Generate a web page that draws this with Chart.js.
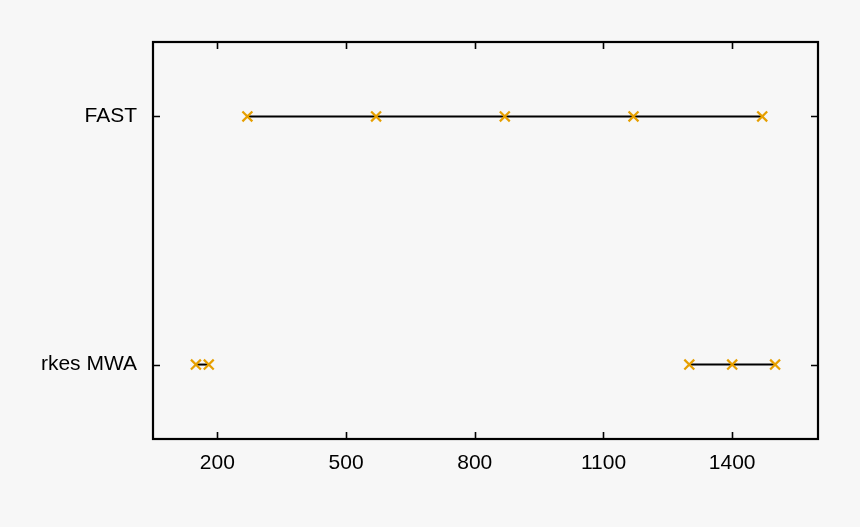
<!DOCTYPE html>
<html>
<head>
<meta charset="utf-8">
<script src="https://cdn.jsdelivr.net/npm/chart.js@4.4.1/dist/chart.umd.min.js"></script>
<title>Frequency coverage</title>
<style>
  html, body { margin: 0; padding: 0; background: #f7f7f7; }
  #wrap { width: 860px; height: 527px; position: relative; }
</style>
</head>
<body>
<div id="wrap"><canvas id="myChart"></canvas></div>
<script>
// telescope rows (y value -> label)
const rowLabels = { 1: 'rkes MWA', 2: 'FAST' };
const xTicks = [200, 500, 800, 1100, 1400];

// frequencies in MHz
const fastFreqs = [270, 570, 870, 1170, 1470];
const mwaFreqs = [150, 180];
const parkesFreqs = [1300, 1400, 1500];

const toPoints = (freqs, row) => freqs.map(f => ({ x: f, y: row }));

const lineColor = '#000000';
const markColor = '#e69f00';
const tickFont = { family: 'Liberation Sans', size: 21 };

function series(freqs, row) {
  return {
    data: toPoints(freqs, row),
    showLine: true,
    borderColor: lineColor,
    borderWidth: 2,
    pointStyle: 'crossRot',
    pointRadius: 7,
    pointBorderWidth: 2.2,
    pointBorderColor: markColor,
    pointBackgroundColor: markColor
  };
}

// gnuplot style frame with inward ticks on all four sides
const frame = {
  id: 'frame',
  afterDatasetsDraw(chart) {
    const { ctx, chartArea: a, scales } = chart;
    const len = 7;
    ctx.save();
    ctx.strokeStyle = '#000';
    ctx.lineWidth = 1.6;
    ctx.beginPath();
    xTicks.forEach(v => {
      const px = Math.round(scales.x.getPixelForValue(v)) + 0.5;
      ctx.moveTo(px, a.bottom); ctx.lineTo(px, a.bottom - len);
      ctx.moveTo(px, a.top); ctx.lineTo(px, a.top + len);
    });
    Object.keys(rowLabels).forEach(v => {
      const py = Math.round(scales.y.getPixelForValue(+v)) + 0.5;
      ctx.moveTo(a.left, py); ctx.lineTo(a.left + len, py);
      ctx.moveTo(a.right, py); ctx.lineTo(a.right - len, py);
    });
    ctx.stroke();
    ctx.lineWidth = 2.2;
    ctx.strokeRect(a.left, a.top, a.right - a.left, a.bottom - a.top);
    ctx.restore();
  }
};

new Chart(document.getElementById('myChart'), {
  type: 'scatter',
  data: {
    datasets: [
      series(fastFreqs, 2),
      series(mwaFreqs, 1),
      series(parkesFreqs, 1)
    ]
  },
  options: {
    responsive: true,
    maintainAspectRatio: false,
    animation: false,
    layout: { padding: { top: 42, right: 42, left: 0, bottom: 0 } },
    plugins: { legend: { display: false }, tooltip: { enabled: false } },
    scales: {
      x: {
        type: 'linear',
        min: 50,
        max: 1600,
        afterBuildTicks(scale) { scale.ticks = xTicks.map(v => ({ value: v })); },
        afterFit(scale) { scale.height = 88; },
        grid: { display: false },
        border: { display: false },
        ticks: {
          color: '#000',
          padding: 4,
          font: tickFont,
          callback: v => String(v)
        }
      },
      y: {
        type: 'linear',
        min: 0.7,
        max: 2.3,
        afterBuildTicks(scale) { scale.ticks = Object.keys(rowLabels).map(v => ({ value: +v })); },
        afterFit(scale) { scale.width = 153; },
        grid: { display: false },
        border: { display: false },
        ticks: {
          color: '#000',
          padding: 8,
          font: tickFont,
          callback: v => rowLabels[v] || ''
        }
      }
    }
  },
  plugins: [frame]
});
</script>
</body>
</html>
